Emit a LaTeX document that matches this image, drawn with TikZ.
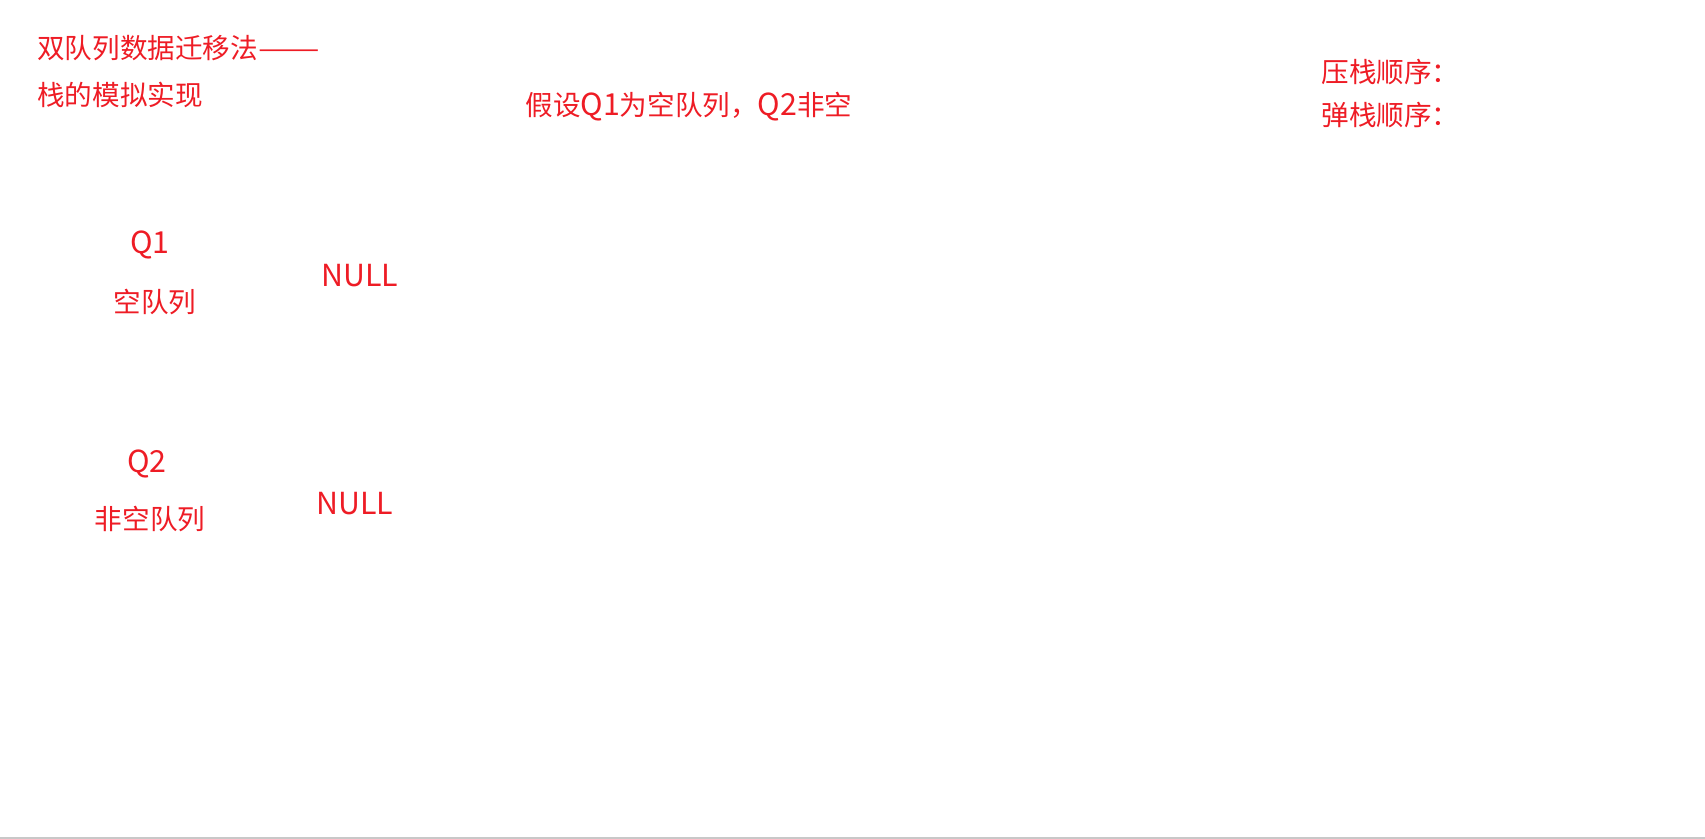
\documentclass[tikz,border=0pt]{standalone}
\usepackage{fontspec}
\setmainfont{Noto Sans CJK SC}
\newfontfamily\latinfont[Scale=1.1]{Noto Sans CJK SC}
\usepackage{tikz}

\definecolor{inkred}{RGB}{238,28,37}
\definecolor{edgegray}{RGB}{200,200,200}

\newcommand{\lat}[1]{{\latinfont #1}}
\newcommand{\longdash}{\scalebox{1.33}[1]{——}}

\begin{document}
\begin{tikzpicture}[x=0.5pt, y=-0.5pt,
    every node/.style={text=inkred, inner sep=0pt, font=\fontsize{13.8}{16}\selectfont}]
    \useasboundingbox (0, 0) rectangle (1705, 839);

    \node[anchor=west] (title1) at (37, 48) {双队列数据迁移法\longdash};
    \node[anchor=west] (title2) at (37, 95) {栈的模拟实现};
    \node[anchor=west] (assume) at (525, 107) {假设\lat{Q1}为空队列，\lat{Q2}非空};
    \node[anchor=west] (push) at (1321, 72) {压栈顺序：};
    \node[anchor=west] (pop) at (1321, 115) {弹栈顺序：};

    \node (q1) at (150, 245) {\lat{Q1}};
    \node (q1lbl) at (155, 302) {空队列};
    \node (null1) at (360, 276) {\lat{NULL}};

    \node (q2) at (147, 464) {\lat{Q2}};
    \node (q2lbl) at (150, 519) {非空队列};
    \node (null2) at (355, 504) {\lat{NULL}};

    \draw[edgegray, line width=0.75pt] (0, 838) -- (1705, 838);
  \end{tikzpicture}
\end{document}
